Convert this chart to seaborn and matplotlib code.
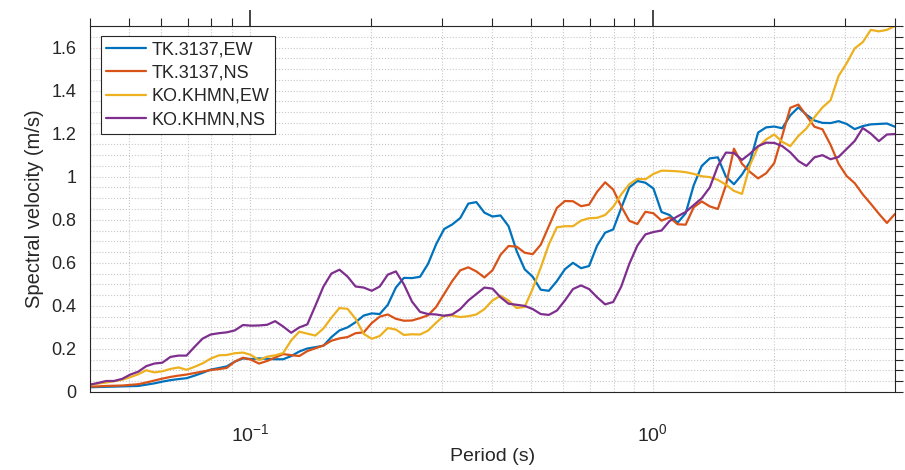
import matplotlib
matplotlib.use("Agg")
import matplotlib.pyplot as plt
import matplotlib.ticker as mticker
import numpy as np
import pandas as pd
import seaborn as sns

# periods (s), log spaced
period = [0.0400, 0.0419, 0.0439, 0.0459, 0.0481, 0.0504, 0.0527, 0.0552, 0.0578, 0.0605,
          0.0634, 0.0664, 0.0695, 0.0728, 0.0762, 0.0798, 0.0836, 0.0875, 0.0916, 0.0960,
          0.1005, 0.1052, 0.1102, 0.1154, 0.1208, 0.1265, 0.1325, 0.1387, 0.1452, 0.1521,
          0.1592, 0.1667, 0.1746, 0.1828, 0.1915, 0.2005, 0.2099, 0.2198, 0.2302, 0.2410,
          0.2524, 0.2643, 0.2767, 0.2898, 0.3034, 0.3177, 0.3327, 0.3484, 0.3648, 0.3820,
          0.4000, 0.4189, 0.4386, 0.4593, 0.4809, 0.5036, 0.5273, 0.5522, 0.5782, 0.6054,
          0.6340, 0.6639, 0.6951, 0.7279, 0.7622, 0.7981, 0.8357, 0.8751, 0.9164, 0.9596,
          1.0048, 1.0521, 1.1017, 1.1536, 1.2080, 1.2649, 1.3245, 1.3869, 1.4523, 1.5207,
          1.5924, 1.6674, 1.7460, 1.8283, 1.9144, 2.0047, 2.0991, 2.1981, 2.3016, 2.4101,
          2.5238, 2.6427, 2.7673, 2.8977, 3.0343, 3.1773, 3.3271, 3.4838, 3.6481, 3.8200,
          4.0000]

tk_ew = [0.022, 0.023, 0.024, 0.025, 0.026, 0.027, 0.028, 0.034, 0.040, 0.048,
         0.055, 0.060, 0.064, 0.076, 0.089, 0.104, 0.111, 0.119, 0.141, 0.156,
         0.153, 0.156, 0.154, 0.152, 0.152, 0.167, 0.188, 0.202, 0.208, 0.215,
         0.255, 0.286, 0.300, 0.324, 0.355, 0.365, 0.362, 0.405, 0.485, 0.530,
         0.529, 0.535, 0.595, 0.686, 0.757, 0.778, 0.808, 0.875, 0.882, 0.833,
         0.815, 0.820, 0.770, 0.655, 0.570, 0.535, 0.475, 0.470, 0.515, 0.570,
         0.600, 0.575, 0.585, 0.680, 0.740, 0.755, 0.855, 0.950, 0.980, 0.972,
         0.945, 0.836, 0.822, 0.786, 0.830, 0.960, 1.050, 1.085, 1.090, 1.000,
         0.965, 1.010, 1.070, 1.205, 1.229, 1.233, 1.225, 1.285, 1.322, 1.288,
         1.261, 1.250, 1.249, 1.258, 1.245, 1.221, 1.235, 1.243, 1.245, 1.247,
         1.232]

tk_ns = [0.025, 0.026, 0.028, 0.029, 0.030, 0.033, 0.036, 0.044, 0.053, 0.062,
         0.070, 0.076, 0.081, 0.088, 0.095, 0.102, 0.106, 0.112, 0.141, 0.159,
         0.150, 0.132, 0.144, 0.160, 0.176, 0.171, 0.167, 0.190, 0.203, 0.216,
         0.238, 0.249, 0.255, 0.273, 0.277, 0.320, 0.350, 0.360, 0.340, 0.331,
         0.332, 0.343, 0.356, 0.395, 0.455, 0.515, 0.565, 0.579, 0.560, 0.532,
         0.565, 0.637, 0.678, 0.675, 0.647, 0.640, 0.684, 0.770, 0.855, 0.887,
         0.886, 0.863, 0.870, 0.930, 0.974, 0.940, 0.862, 0.795, 0.780, 0.837,
         0.830, 0.796, 0.811, 0.779, 0.777, 0.858, 0.885, 0.862, 0.850, 0.960,
         1.130, 1.060, 1.022, 0.992, 1.016, 1.063, 1.190, 1.320, 1.335, 1.284,
         1.232, 1.220, 1.148, 1.060, 1.003, 0.970, 0.918, 0.874, 0.828, 0.785,
         0.827]

ko_ew = [0.034, 0.039, 0.044, 0.050, 0.057, 0.069, 0.082, 0.101, 0.091, 0.096,
         0.107, 0.114, 0.103, 0.117, 0.133, 0.155, 0.170, 0.172, 0.180, 0.183,
         0.172, 0.148, 0.164, 0.170, 0.181, 0.240, 0.280, 0.271, 0.262, 0.295,
         0.345, 0.390, 0.386, 0.340, 0.270, 0.247, 0.260, 0.297, 0.290, 0.265,
         0.268, 0.267, 0.285, 0.322, 0.355, 0.355, 0.348, 0.352, 0.360, 0.385,
         0.425, 0.447, 0.425, 0.390, 0.395, 0.480, 0.578, 0.685, 0.765, 0.770,
         0.770, 0.796, 0.807, 0.809, 0.822, 0.860, 0.918, 0.965, 0.990, 0.988,
         1.013, 1.028, 1.027, 1.025, 1.021, 1.013, 1.002, 0.998, 0.985, 0.963,
         0.934, 0.920, 1.055, 1.138, 1.173, 1.196, 1.162, 1.142, 1.189, 1.224,
         1.276, 1.322, 1.355, 1.468, 1.527, 1.596, 1.625, 1.682, 1.675, 1.682,
         1.700]

ko_ns = [0.034, 0.042, 0.051, 0.051, 0.061, 0.081, 0.094, 0.120, 0.132, 0.136,
         0.163, 0.169, 0.169, 0.210, 0.248, 0.267, 0.273, 0.277, 0.286, 0.311,
         0.308, 0.309, 0.312, 0.329, 0.304, 0.275, 0.300, 0.314, 0.400, 0.490,
         0.550, 0.568, 0.536, 0.490, 0.485, 0.470, 0.490, 0.545, 0.560, 0.500,
         0.420, 0.372, 0.362, 0.360, 0.354, 0.360, 0.385, 0.425, 0.455, 0.485,
         0.480, 0.440, 0.410, 0.405, 0.400, 0.385, 0.362, 0.358, 0.378, 0.425,
         0.478, 0.495, 0.478, 0.440, 0.407, 0.418, 0.490, 0.595, 0.680, 0.732,
         0.743, 0.750, 0.794, 0.816, 0.836, 0.868, 0.900, 0.950, 1.050, 1.112,
         1.110, 1.078, 1.107, 1.142, 1.158, 1.157, 1.142, 1.113, 1.073, 1.050,
         1.090, 1.100, 1.081, 1.092, 1.129, 1.166, 1.226, 1.200, 1.165, 1.196,
         1.198]

names = ["TK.3137,EW", "TK.3137,NS", "KO.KHMN,EW", "KO.KHMN,NS"]
colors = ["#0072BD", "#D95319", "#EDB120", "#7E2F8E"]

df = pd.concat([
    pd.DataFrame({"period": period, "sv": v, "station": n})
    for n, v in zip(names, [tk_ew, tk_ns, ko_ew, ko_ns])
])

sns.set_style("white")
plt.rcParams["font.family"] = ["Liberation Sans", "DejaVu Sans"]
plt.rcParams["axes.edgecolor"] = "#262626"
plt.rcParams["axes.linewidth"] = 0.8

fig = plt.figure(figsize=(9.05, 4.7), dpi=100)
ax = fig.add_axes([0.0994, 0.166, 0.8895, 0.7787])

sns.lineplot(data=df, x="period", y="sv", hue="station", palette=colors,
             linewidth=1.6, ax=ax, sort=False, legend=True)

ax.set_xscale("log")
ax.set_xlim(0.04, 4)
ax.set_ylim(0, 1.7)

ax.xaxis.set_major_locator(mticker.LogLocator(base=10, numticks=10))
ax.xaxis.set_minor_locator(mticker.LogLocator(base=10, subs=np.arange(2, 10), numticks=20))
ax.xaxis.set_minor_formatter(mticker.NullFormatter())
ax.yaxis.set_major_locator(mticker.MultipleLocator(0.2))
ax.yaxis.set_minor_locator(mticker.MultipleLocator(0.05))
ax.yaxis.set_major_formatter(mticker.FuncFormatter(lambda v, p: "%g" % round(v, 2)))

ax.grid(which="both", linestyle=":", color="#c8c8c8", linewidth=0.8)
ax.set_axisbelow(True)

ax.tick_params(which="both", direction="out", top=True, right=True,
               color="#262626", labelsize=13, labelcolor="#262626")
ax.tick_params(axis="x", which="major", length=11.5, width=1.2, pad=11, labelsize=14)
ax.tick_params(axis="x", which="minor", length=5.8, width=0.8)
ax.tick_params(axis="y", which="both", length=5.8, width=0.8, pad=4)

for s in ax.spines.values():
    s.set_visible(True)
    s.set_color("#262626")

ax.set_xlabel("Period (s)", fontsize=14, color="#262626", labelpad=2)
ax.set_ylabel("Spectral velocity (m/s)", fontsize=14.5, color="#262626", labelpad=5)

handles, labels = ax.get_legend_handles_labels()
leg = ax.legend(handles, labels, loc="upper left", bbox_to_anchor=(0.0137, 0.973),
                borderaxespad=0, fontsize=13, frameon=True, fancybox=False,
                framealpha=1, edgecolor="#262626", handlelength=2.2,
                handletextpad=0.3, borderpad=0.3, labelspacing=0.35)
leg.get_frame().set_linewidth(0.8)

fig.savefig("out.png", dpi=100)
